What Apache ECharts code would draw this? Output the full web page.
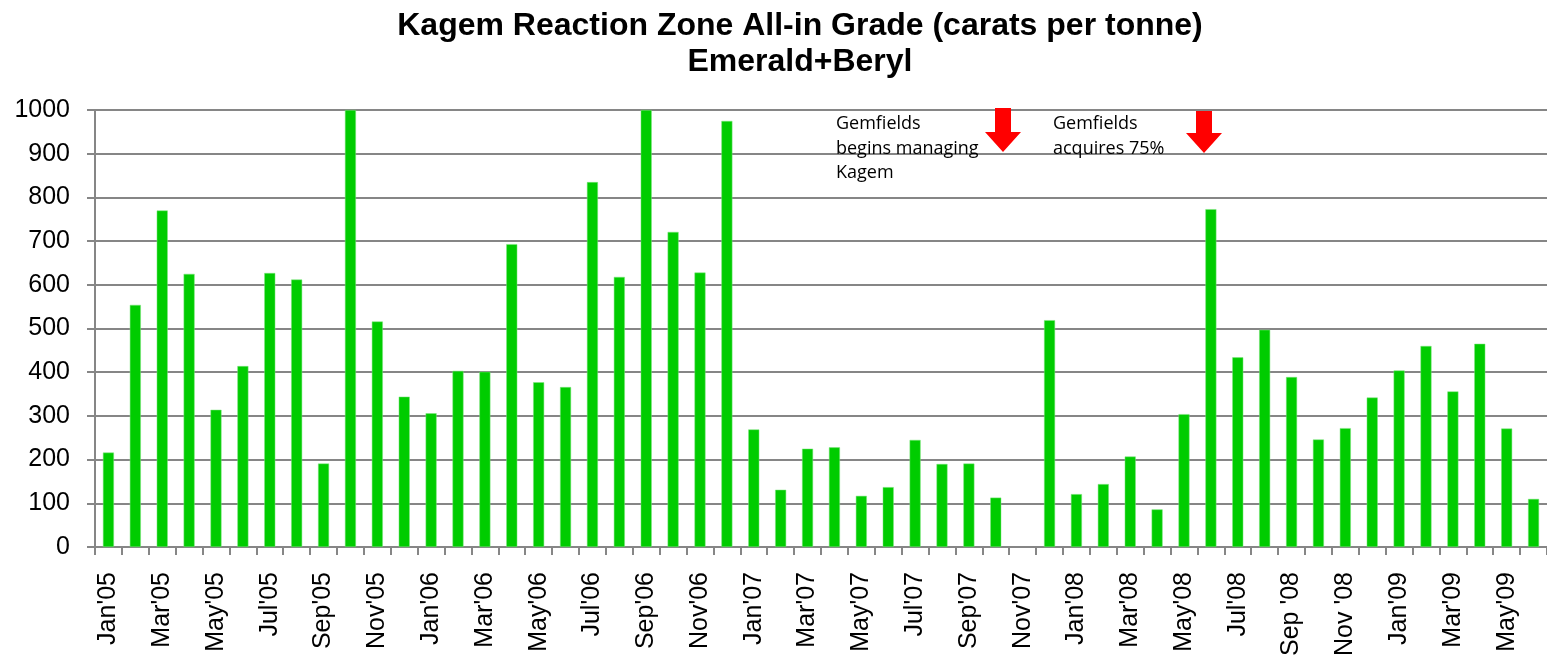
<!DOCTYPE html>
<html>
<head>
    <meta charset="UTF-8">
    <title>Kagem grade</title>
    <style>
        html, body { margin: 0; padding: 0; background: #FFF; }
    </style>
</head>
<body>
<div id="main" style="width:1547px;height:660px"></div>

<script src="https://cdn.jsdelivr.net/npm/echarts@6/dist/echarts.min.js"></script>
<script type="text/javascript">
    // months Jan'05 .. Jun'09
    var months = ["Jan'05", "Feb'05", "Mar'05", "Apr'05", "May'05", "Jun'05", "Jul'05", "Aug'05", "Sep'05", "Oct'05", "Nov'05", "Dec'05",
        "Jan'06", "Feb'06", "Mar'06", "Apr'06", "May'06", "Jun'06", "Jul'06", "Aug'06", "Sep'06", "Oct'06", "Nov'06", "Dec'06",
        "Jan'07", "Feb'07", "Mar'07", "Apr'07", "May'07", "Jun'07", "Jul'07", "Aug'07", "Sep'07", "Oct'07", "Nov'07", "Dec'07",
        "Jan'08", "Feb'08", "Mar'08", "Apr'08", "May'08", "Jun'08", "Jul'08", "Aug'08", "Sep '08", "Oct '08", "Nov '08", "Dec '08",
        "Jan'09", "Feb'09", "Mar'09", "Apr'09", "May'09", "Jun'09"];

    var grade = [216, 554, 770, 625, 314, 414, 627, 612, 191, 1000, 516, 344,
        306, 403, 401, 693, 377, 366, 835, 618, 1000, 721, 628, 975,
        269, 131, 225, 228, 117, 137, 245, 190, 191, 113, null, 519,
        121, 144, 207, 86, 304, 773, 434, 497, 389, 246, 272, 342,
        404, 460, 356, 465, 271, 110];

    var yTicks = [0, 1000, 100];   // min, max, interval

    var mCharts = echarts.init(document.getElementById('main'));

    //箭头
    function arrow(cx, top, tip) {
        return {
            type: 'polygon',
            shape: {
                points: [[cx - 8, top], [cx + 8, top], [cx + 8, tip - 20], [cx + 18, tip - 20],
                    [cx, tip], [cx - 18, tip - 20], [cx - 8, tip - 20]]
            },
            style: { fill: '#FF0000' },
            z: 10
        };
    }

    var noteStyle = {
        fill: '#000',
        font: '18px "Open Sans"',
        lineHeight: 24.5
    };

    var mOptions = {
        animation: false,
        title: {
            text: 'Kagem Reaction Zone All-in Grade (carats per tonne)\nEmerald+Beryl',
            left: 795,
            top: 3,
            textAlign: 'center',
            textStyle: {
                fontFamily: 'Liberation Sans',
                fontWeight: 'bold',
                fontSize: 32,
                lineHeight: 36,
                color: '#000'
            }
        },
        grid: {
            left: 95,
            right: 0,
            top: 110,
            bottom: 113
        },
        xAxis: {
            type: 'category',
            data: months,
            boundaryGap: true,
            axisLine: { lineStyle: { color: '#868686', width: 2 } },
            axisTick: { show: true, interval: 0, length: 8, lineStyle: { color: '#868686', width: 2 } },
            axisLabel: {
                interval: 1,
                rotate: 90,
                margin: 25,
                color: '#000',
                fontFamily: 'Liberation Sans',
                fontSize: 25
            }
        },
        yAxis: {
            type: 'value',
            min: yTicks[0],
            max: yTicks[1],
            interval: yTicks[2],
            axisLine: { show: true, lineStyle: { color: '#868686', width: 2 } },
            axisTick: { show: true, length: 8, lineStyle: { color: '#868686', width: 2 } },
            splitLine: { lineStyle: { color: '#868686', width: 2 } },
            axisLabel: {
                margin: 25,
                color: '#000',
                fontFamily: 'Liberation Sans',
                fontSize: 25,
                formatter: function (v) { return String(v); }
            }
        },
        series: [{
            type: 'bar',
            data: grade,
            barWidth: 11,
            itemStyle: {
                color: '#00CC00',
                borderColor: '#7FE57F',
                borderWidth: 0.5
            }
        }],
        graphic: [
            {
                type: 'text', left: 836, top: 112, z: 10,
                style: Object.assign({ text: 'Gemfields\nbegins managing\nKagem' }, noteStyle)
            },
            {
                type: 'text', left: 1053, top: 112, z: 10,
                style: Object.assign({ text: 'Gemfields\nacquires 75%' }, noteStyle)
            },
            arrow(1003, 108, 152),
            arrow(1204, 111, 153)
        ]
    };

    mCharts.setOption(mOptions);
</script>
</body>
</html>
